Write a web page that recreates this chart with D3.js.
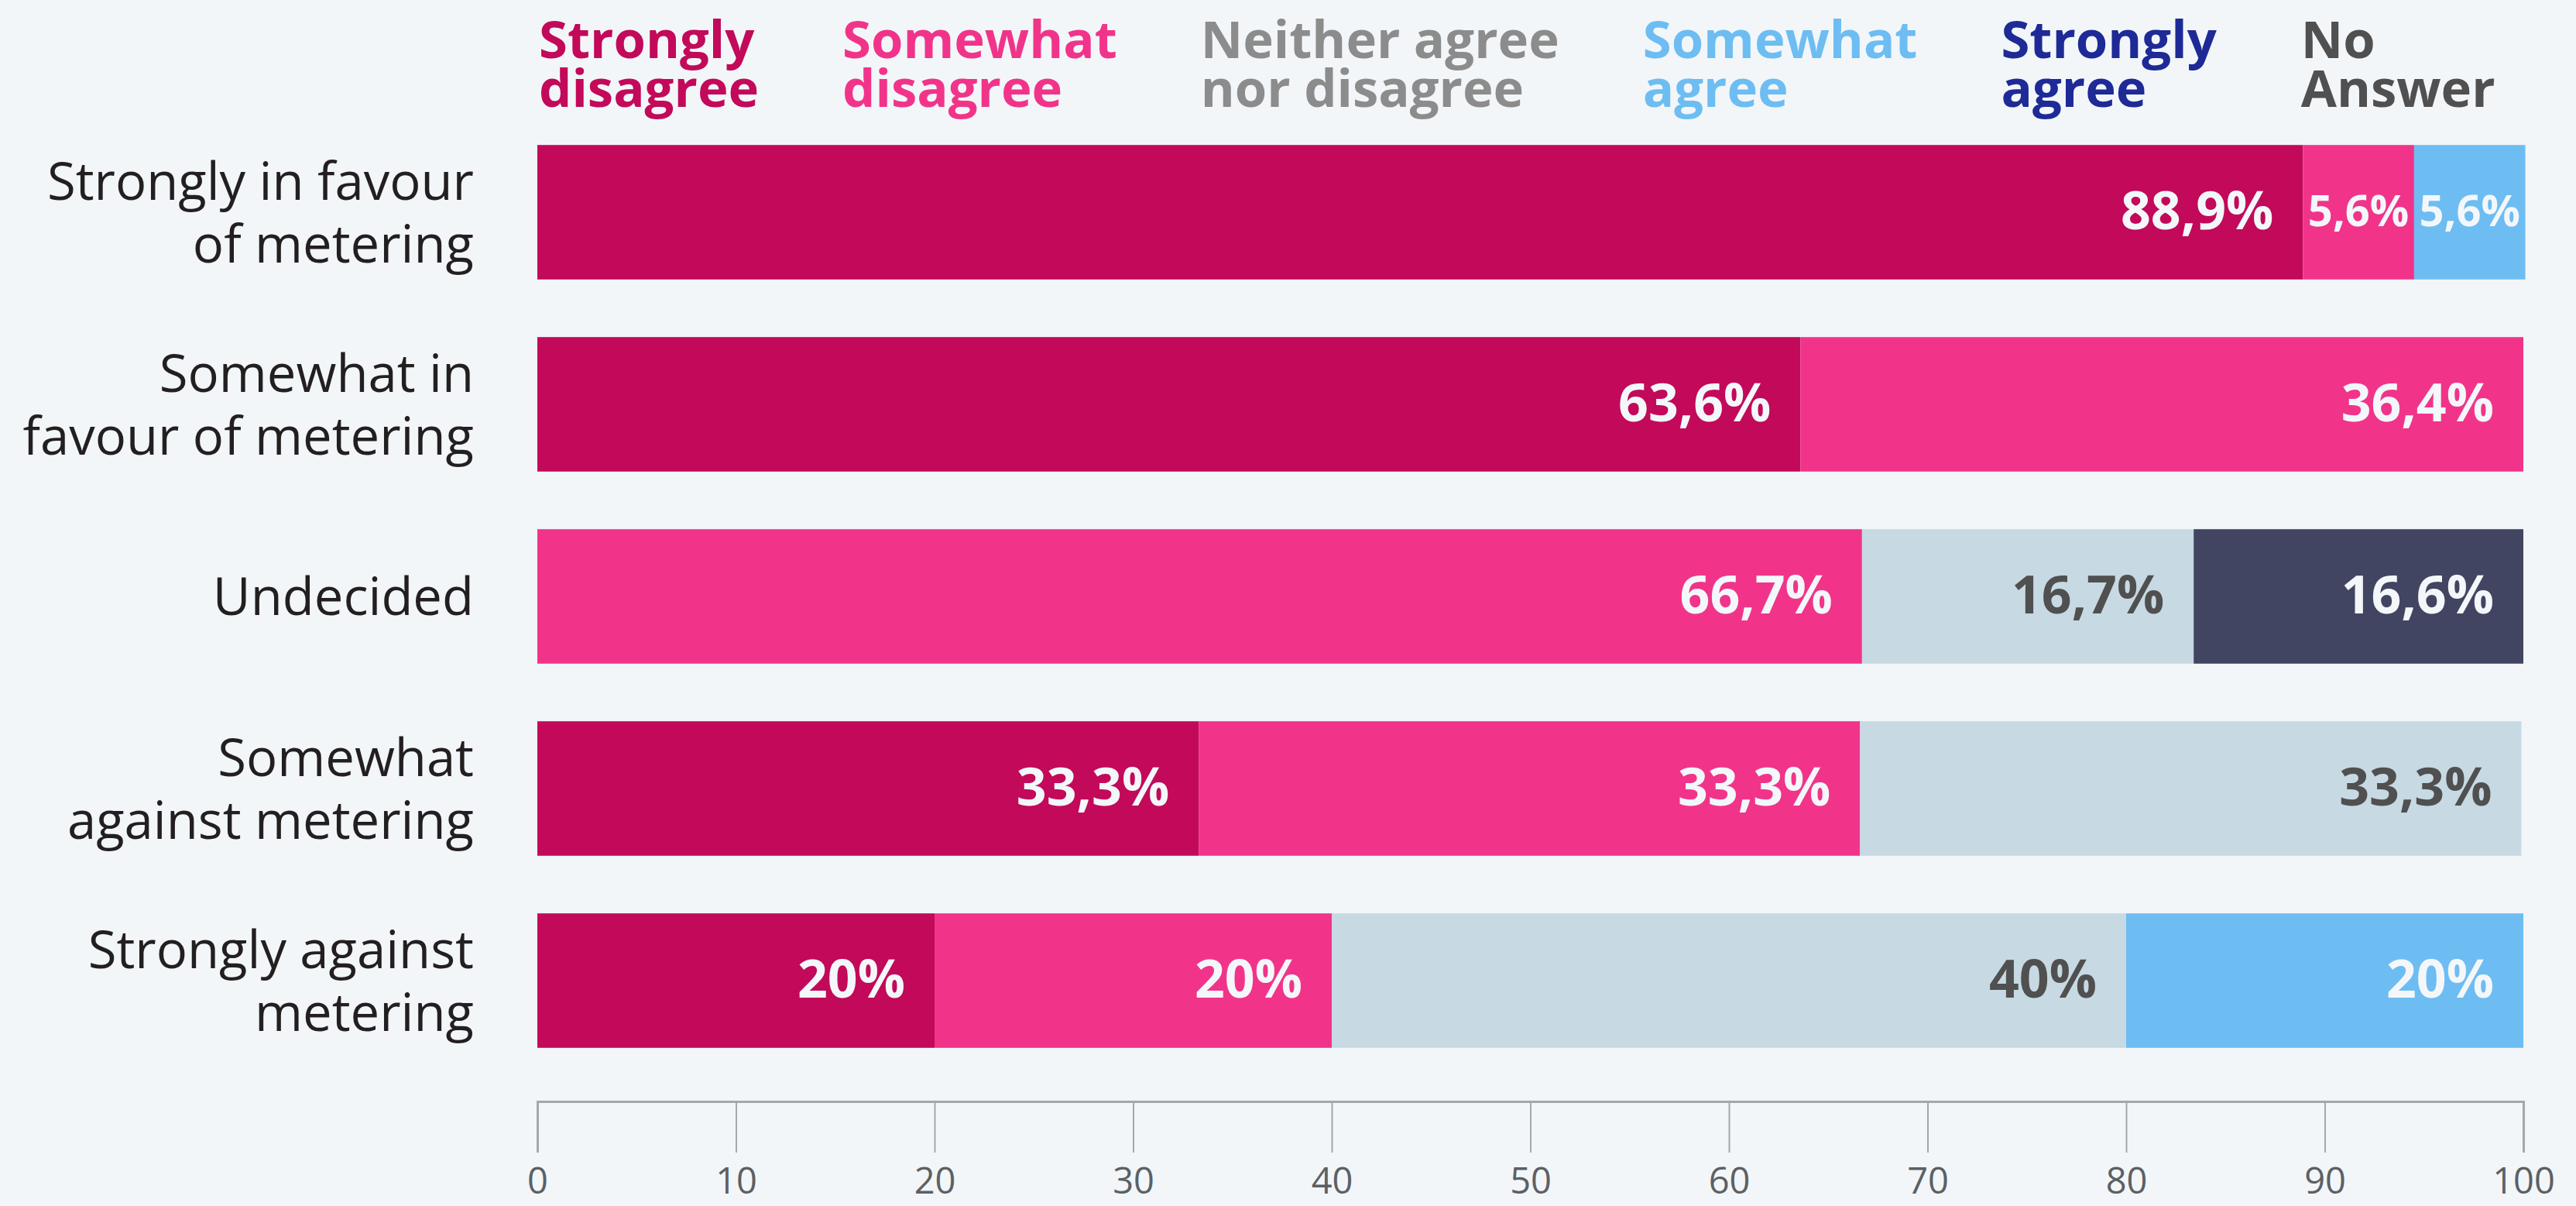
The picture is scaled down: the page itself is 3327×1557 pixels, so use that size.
<!DOCTYPE html>
<html>
<head>
<meta charset="utf-8">
<script src="https://cdn.jsdelivr.net/npm/d3@7"></script>
<style>
  body { margin: 0; background: #f2f6f9; }
  svg { display: block; font-family: "Open Sans", sans-serif; }
</style>
</head>
<body>
<div id="chart"></div>
<script>
// rows, top to bottom (label lines as in the original)
const categories = [
  ["Strongly in favour", "of metering"],
  ["Somewhat in", "favour of metering"],
  ["Undecided"],
  ["Somewhat", "against metering"],
  ["Strongly against", "metering"]
]

// answer series, in stacking order
const seriesNames = ["Strongly disagree", "Somewhat disagree", "Neither agree nor disagree", "Somewhat agree", "Strongly agree", "No Answer"]
const legendLines = [["Strongly", "disagree"], ["Somewhat", "disagree"], ["Neither agree", "nor disagree"], ["Somewhat", "agree"], ["Strongly", "agree"], ["No", "Answer"]]

// percentages per row
const stronglyDisagree = [88.9, 63.6, 0, 33.3, 20]
const somewhatDisagree = [5.6, 36.4, 66.7, 33.3, 20]
const neitherAgree = [0, 0, 16.7, 33.3, 40]
const somewhatAgree = [5.6, 0, 0, 0, 20]
const stronglyAgree = [0, 0, 0, 0, 0]
const noAnswer = [0, 0, 16.6, 0, 0]

const xTicks = [0, 10, 20, 30, 40, 50, 60, 70, 80, 90, 100]

const barColors = ["#c2095a", "#f1348a", "#c7d9e2", "#6dbdf2", "#1e2a96", "#414561"]
const legendColors = ["#c2095a", "#f1348a", "#8c8c8c", "#6dbdf2", "#1e2a96", "#505050"]
const labelColors = ["#f4f7fa", "#f4f7fa", "#505050", "#f4f7fa", "#f4f7fa", "#f4f7fa"]

const width = 3327, height = 1557

const allValues = [stronglyDisagree, somewhatDisagree, neitherAgree, somewhatAgree, stronglyAgree, noAnswer]
const table = categories.map((c, i) => {
    let row = {key: i}
    seriesNames.forEach((s, j) => { row[s] = allValues[j][i] })
    return row
})

const stacked = d3.stack().keys(seriesNames)(table)

const x = d3.scaleLinear()
    .domain([0, 100])
    .range([694, 3259])

const y = d3.scaleBand()
    .domain(d3.range(categories.length))
    .range([150, 1390])
    .paddingInner(0.3)
    .paddingOuter(0.15)

const svg = d3.select("#chart")
    .append("svg")
    .attr("width", width)
    .attr("height", height)

svg.append("rect")
    .attr("width", width)
    .attr("height", height)
    .attr("fill", "#f2f6f9")

// legend: each entry placed after the previous one's text
const legend = svg.append("g")
let legendX = 696
legendLines.forEach((lines, i) => {
    const t = legend.append("text")
        .attr("x", legendX)
        .attr("y", 75)
        .attr("font-size", 67)
        .attr("font-weight", 700)
        .attr("fill", legendColors[i])
    lines.forEach((l, k) => {
        t.append("tspan")
            .attr("x", legendX)
            .attr("dy", k === 0 ? 0 : 63)
            .text(l)
    })
    legendX += t.node().getBBox().width + 108
})

// row labels
const rowLabels = svg.append("g")
categories.forEach((lines, i) => {
    const cy = y(i) + y.bandwidth() / 2
    const t = rowLabels.append("text")
        .attr("text-anchor", "end")
        .attr("font-size", 67)
        .attr("fill", "#231f20")
    lines.forEach((l, k) => {
        t.append("tspan")
            .attr("x", 612)
            .attr("y", cy + 24 + (k - (lines.length - 1) / 2) * 81)
            .text(l)
    })
})

// bars
const layer = svg.selectAll(".layer")
    .data(stacked)
    .enter()
    .append("g")
    .attr("class", "layer")

layer.selectAll("rect")
    .data((d, i) => d.map(p => ({p: p, s: i})))
    .enter()
    .filter(d => d.p[1] - d.p[0] > 0)
    .append("rect")
    .attr("x", d => x(d.p[0]))
    .attr("y", d => y(d.p.data.key))
    .attr("width", d => x(d.p[1]) - x(d.p[0]))
    .attr("height", y.bandwidth())
    .attr("fill", d => barColors[d.s])

const fmt = v => d3.format(".1~f")(v).replace(".", ",") + "%"

// value labels, right aligned inside each segment, shrunk when the segment is narrow
layer.selectAll("text")
    .data((d, i) => d.map(p => ({p: p, s: i})))
    .enter()
    .filter(d => d.p[1] - d.p[0] > 0)
    .append("text")
    .attr("font-size", 68)
    .attr("font-weight", 700)
    .attr("fill", d => labelColors[d.s])
    .attr("text-anchor", "end")
    .text(d => fmt(d.p[1] - d.p[0]))
    .each(function(d) {
        const w = x(d.p[1]) - x(d.p[0])
        let tw = this.getComputedTextLength()
        let size = 68
        if (tw > w - 12) {
            size = Math.floor(68 * (w - 12) / tw)
            d3.select(this).attr("font-size", size)
            tw = this.getComputedTextLength()
        }
        const pad = Math.min(38, Math.max(0, (w - tw) / 2))
        d3.select(this)
            .attr("x", x(d.p[1]) - pad)
            .attr("y", y(d.p.data.key) + y.bandwidth() / 2 + size * 0.33)
    })

// x axis
const axis = svg.append("g")
    .attr("transform", "translate(0,1422)")
    .call(d3.axisBottom(x).tickValues(xTicks).tickSize(66).tickPadding(20).tickFormat(d3.format("d")))

axis.select(".domain")
    .attr("stroke", "#a3a8ad")
    .attr("stroke-width", 3)

axis.selectAll(".tick line")
    .attr("stroke", "#a3a8ad")
    .attr("stroke-width", 2)

axis.selectAll(".tick text")
    .attr("font-family", "Open Sans, sans-serif")
    .attr("font-size", 47)
    .attr("fill", "#5c6064")
</script>
</body>
</html>
